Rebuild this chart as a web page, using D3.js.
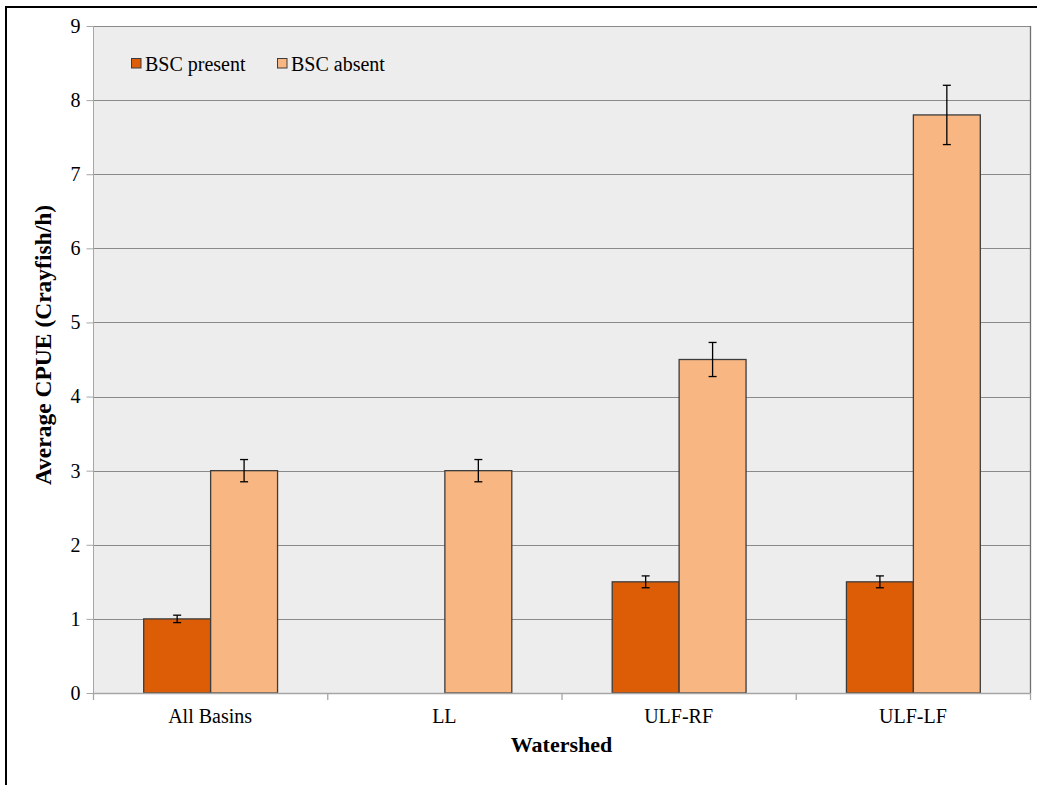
<!DOCTYPE html>
<html><head><meta charset="utf-8">
<script src="https://cdn.jsdelivr.net/npm/d3@7"></script>
<style>body{margin:0;background:#fff}svg{display:block}text{font-family:"Liberation Serif","Times New Roman",serif}</style>
</head><body><svg id="c" width="1037" height="785"></svg>
<script>
const categories = ["All Basins", "LL", "ULF-RF", "ULF-LF"];
const seriesNames = ["BSC present", "BSC absent"];
const presentValues = [1.0, null, 1.5, 1.5];
const presentErrors = [0.05, null, 0.08, 0.08];
const absentValues = [3.0, 3.0, 4.5, 7.8];
const absentErrors = [0.15, 0.15, 0.23, 0.4];
const yTicks = [0,1,2,3,4,5,6,7,8,9];
const colors = ["#DD5D06", "#F8B682"];

const svg = d3.select("#c");
const L = 93, R = 1030, T = 26, B = 693;

// outer border (top and left)
svg.append("line").attr("x1",6).attr("x2",1037).attr("y1",7).attr("y2",7).attr("stroke","#000").attr("stroke-width",2);
svg.append("line").attr("x1",6).attr("x2",6).attr("y1",6).attr("y2",785).attr("stroke","#000").attr("stroke-width",2);

const y = d3.scaleLinear().domain([0,9]).range([B,T]);
const x0 = d3.scaleBand().domain(categories).range([L,R]);
const x1 = d3.scaleBand().domain(seriesNames).range([0,x0.bandwidth()]).paddingOuter(0.75);

svg.append("rect").attr("x",L).attr("y",T).attr("width",R-L).attr("height",B-T).attr("fill","#EDEDED");

// gridlines
svg.append("g").selectAll("line").data(yTicks.filter(d=>d>0)).join("line")
  .attr("x1",L).attr("x2",R).attr("y1",d=>Math.round(y(d))+0.5).attr("y2",d=>Math.round(y(d))+0.5)
  .attr("stroke","#8A8A8A").attr("stroke-width",1);

// y axis
const ya = svg.append("g").attr("transform",`translate(${L+0.5},0)`)
  .call(d3.axisLeft(y).tickValues(yTicks).tickSize(7).tickPadding(6).tickFormat(d3.format("d")));
ya.attr("font-family","Liberation Serif");
ya.select(".domain").attr("stroke","#A6A6A6").attr("d",`M0,${T}V${B}`);
ya.selectAll(".tick line").attr("stroke","#A6A6A6");
ya.selectAll(".tick text").attr("font-size",20).attr("fill","#000");

// bars
const data = categories.map((c,i)=>({c, vals:[
  {s:seriesNames[0], v:presentValues[i], e:presentErrors[i], col:colors[0]},
  {s:seriesNames[1], v:absentValues[i], e:absentErrors[i], col:colors[1]}]}));
const g = svg.append("g").selectAll("g").data(data).join("g")
  .attr("transform",d=>`translate(${x0(d.c)},0)`);
const bars = g.selectAll("g.b").data(d=>d.vals.filter(v=>v.v!=null)).join("g").attr("class","b");
bars.append("rect")
  .attr("x",d=>x1(d.s)+0.5).attr("y",d=>y(d.v)).attr("width",x1.bandwidth()).attr("height",d=>B-y(d.v))
  .attr("fill",d=>d.col).attr("stroke","#3C3C3C").attr("stroke-width",1.3);
// error bars
const cx = d=>x1(d.s)+x1.bandwidth()/2+0.5;
bars.append("line").attr("x1",cx).attr("x2",cx).attr("y1",d=>y(d.v+d.e)).attr("y2",d=>y(d.v-d.e)).attr("stroke","#000").attr("stroke-width",1.3);
bars.append("line").attr("x1",d=>cx(d)-4).attr("x2",d=>cx(d)+4).attr("y1",d=>y(d.v+d.e)).attr("y2",d=>y(d.v+d.e)).attr("stroke","#000").attr("stroke-width",1.3);
bars.append("line").attr("x1",d=>cx(d)-4).attr("x2",d=>cx(d)+4).attr("y1",d=>y(d.v-d.e)).attr("y2",d=>y(d.v-d.e)).attr("stroke","#000").attr("stroke-width",1.3);

// right border of plot
svg.append("line").attr("x1",R+0.5).attr("x2",R+0.5).attr("y1",T).attr("y2",B).attr("stroke","#707070").attr("stroke-width",1.3);

// x axis
const boundaries = categories.map(c=>x0(c)).concat([R]);
svg.append("line").attr("x1",L).attr("x2",R).attr("y1",B+0.5).attr("y2",B+0.5).attr("stroke","#A6A6A6").attr("stroke-width",1.5);
svg.append("g").selectAll("line").data(boundaries).join("line")
  .attr("x1",d=>d+0.5).attr("x2",d=>d+0.5).attr("y1",B).attr("y2",B+7).attr("stroke","#A6A6A6").attr("stroke-width",1.3);
svg.append("g").selectAll("text").data(categories).join("text")
  .attr("x",d=>x0(d)+x0.bandwidth()/2).attr("y",723).attr("text-anchor","middle").attr("font-size",20).text(d=>d);

// axis titles
svg.append("text").attr("x",(L+R)/2).attr("y",752).attr("text-anchor","middle").attr("font-size",22).attr("font-weight","bold").text("Watershed");
svg.append("text").attr("transform",`translate(51,345) rotate(-90)`).attr("text-anchor","middle").attr("font-size",23.5).attr("font-weight","bold").text("Average CPUE (Crayfish/h)");

// legend
const legX = [131, 277];
const lg = svg.append("g").selectAll("g").data(seriesNames).join("g").attr("transform",(d,i)=>`translate(${legX[i]},58)`);
lg.append("rect").attr("width",9.5).attr("height",9.5).attr("x",0.5).attr("y",0.5).attr("fill",(d,i)=>colors[i]).attr("stroke","#3C3C3C").attr("stroke-width",1);
lg.append("text").attr("x",14).attr("y",13).attr("font-size",20).text(d=>d);
</script></body></html>
